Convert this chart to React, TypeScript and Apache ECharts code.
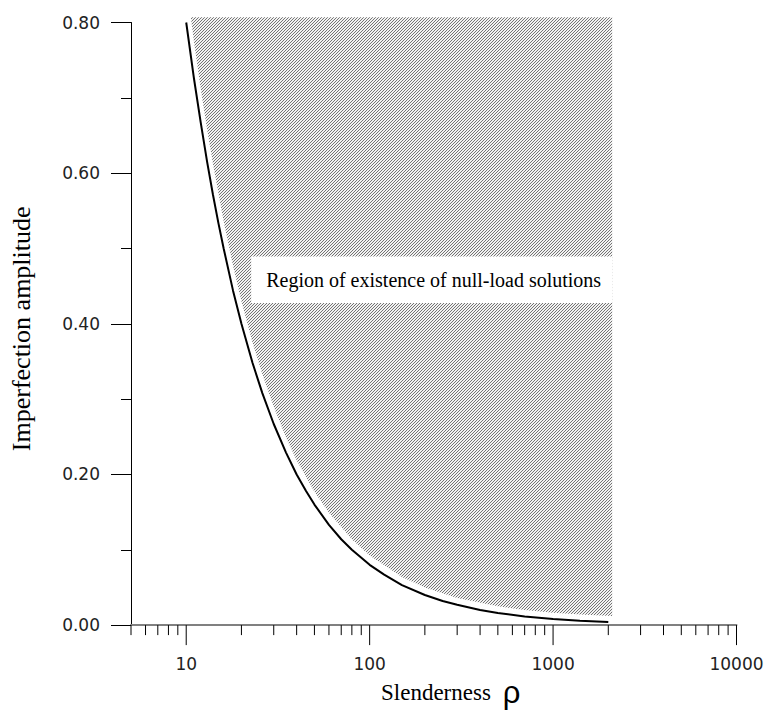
import React, { useEffect, useRef } from 'react';
import * as echarts from 'echarts';

// Black curve (lower limit)
const curveX = [10, 11, 12, 13, 14, 15, 16, 18, 20, 23, 26, 30, 35, 40, 45, 50, 60, 70, 80, 100, 120, 150, 200, 250, 300, 400, 500, 700, 1000, 1400, 2000];
const curveY = [0.80, 0.727, 0.667, 0.615, 0.571, 0.533, 0.50, 0.444, 0.40, 0.348, 0.308, 0.267, 0.229, 0.20, 0.178, 0.16, 0.133, 0.114, 0.10, 0.08, 0.067, 0.053, 0.04, 0.032, 0.027, 0.020, 0.016, 0.0115, 0.008, 0.0058, 0.004];

// Lower edge of the hatched region
const boundaryX = [10.6, 11, 12, 13, 14, 16, 18, 20, 23, 26, 30, 35, 40, 50, 60, 80, 100, 150, 200, 300, 500, 700, 1000, 1500, 2100];
const boundaryY = [0.807, 0.776, 0.712, 0.658, 0.612, 0.536, 0.477, 0.43, 0.375, 0.333, 0.29, 0.249, 0.219, 0.177, 0.149, 0.114, 0.0925, 0.064, 0.05, 0.036, 0.025, 0.02, 0.0165, 0.0136, 0.012];
const regionTop = 0.807;

const xMajorTicks = [10, 100, 1000, 10000];
const xMinorTicks = [5, 6, 7, 8, 9, 20, 30, 40, 50, 60, 70, 80, 90, 200, 300, 400, 500, 600, 700, 800, 900, 2000, 3000, 4000, 5000, 6000, 7000, 8000, 9000];

const regionLabel = 'Region of existence of null-load solutions';
const labelBoxX = [22.6, 2100];
const labelBoxY = [0.4275, 0.4895];

function makeHatch(): HTMLCanvasElement {
  const c = document.createElement('canvas');
  c.width = 3;
  c.height = 3;
  const ctx = c.getContext('2d')!;
  ctx.fillStyle = '#f2f2f2';
  ctx.fillRect(0, 0, 3, 3);
  ctx.fillStyle = '#747474';
  ctx.fillRect(0, 2, 1, 1);
  ctx.fillRect(1, 1, 1, 1);
  ctx.fillRect(2, 0, 1, 1);
  return c;
}

export default function App() {
  const ref = useRef<HTMLDivElement>(null);
  useEffect(() => {
    if (!ref.current) return;
    const chart = echarts.init(ref.current, null, { renderer: 'svg' });
    const hatch = makeHatch();
    const tickData = [
      ...xMajorTicks.map((v) => [v, 0, 1]),
      ...xMinorTicks.map((v) => [v, 0, 0]),
    ];
    chart.setOption({
      animation: false,
      backgroundColor: '#fff',
      grid: { left: 130.5, right: 34.5, top: 22.5, bottom: 84, containLabel: false },
      xAxis: {
        type: 'log',
        logBase: 10,
        min: 5,
        max: 10000,
        axisLine: { show: true, lineStyle: { color: '#808080', width: 2 } },
        axisTick: { show: false },
        splitLine: { show: false },
        axisLabel: {
          margin: 30,
          fontFamily: 'DejaVu Sans',
          fontSize: 17,
          color: '#222',
          formatter: (v: number) => (xMajorTicks.indexOf(Math.round(v)) >= 0 ? String(Math.round(v)) : ''),
        },
        name: '{a|Slenderness}{b|ρ}',
        nameLocation: 'middle',
        nameGap: 46,
        nameTextStyle: {
          padding: [0, 0, 0, 34],
          rich: {
            a: { fontFamily: 'Liberation Serif', fontSize: 23, color: '#000' },
            b: { fontFamily: 'Liberation Sans', fontSize: 31, color: '#000', padding: [0, 0, 0, 12] },
          },
        },
      },
      yAxis: {
        type: 'value',
        min: 0,
        max: 0.8,
        interval: 0.2,
        axisLine: { show: true, lineStyle: { color: '#000', width: 1 } },
        axisTick: { show: true, length: 20, lineStyle: { color: '#000' } },
        minorTick: { show: true, splitNumber: 2, length: 10, lineStyle: { color: '#000' } },
        splitLine: { show: false },
        axisLabel: {
          margin: 31,
          fontFamily: 'DejaVu Sans',
          fontSize: 17,
          color: '#222',
          formatter: (v: number) => v.toFixed(2),
        },
        name: 'Imperfection amplitude',
        nameLocation: 'middle',
        nameRotate: 90,
        nameGap: 97,
        nameTextStyle: {
          fontFamily: 'Liberation Serif',
          fontSize: 26,
          color: '#000',
          padding: [0, 10, 0, 0],
        },
      },
      series: [
        {
          type: 'custom',
          data: [[boundaryX[0], regionTop]],
          encode: { x: 0, y: 1 },
          clip: false,
          silent: true,
          z: 2,
          renderItem: (params: any, api: any) => {
            const pts = boundaryX.map((x, i) => api.coord([x, boundaryY[i]]));
            pts.push(api.coord([boundaryX[boundaryX.length - 1], regionTop]));
            pts.push(api.coord([boundaryX[0], regionTop]));
            return {
              type: 'polygon',
              shape: { points: pts },
              style: {
                fill: { image: hatch, repeat: 'repeat', imageWidth: 3, imageHeight: 3 },
                stroke: 'none',
              },
            };
          },
        },
        {
          type: 'line',
          data: curveX.map((x, i) => [x, curveY[i]]),
          symbol: 'none',
          lineStyle: { color: '#000', width: 2 },
          silent: true,
          clip: false,
          z: 4,
          markArea: {
            z: 10,
            silent: true,
            itemStyle: { color: '#fff', opacity: 1 },
            label: {
              show: true,
              position: 'insideLeft',
              distance: 15,
              fontFamily: 'Liberation Serif',
              fontSize: 20,
              color: '#000',
            },
            data: [[
              { name: regionLabel, coord: [labelBoxX[0], labelBoxY[1]] },
              { coord: [labelBoxX[1], labelBoxY[0]] },
            ]],
          },
        },
        {
          type: 'custom',
          data: tickData,
          encode: { x: 0, y: 1 },
          clip: false,
          silent: true,
          z: 5,
          renderItem: (params: any, api: any) => {
            const p = api.coord([api.value(0), 0]);
            const len = api.value(2) ? 20 : 10;
            return {
              type: 'line',
              shape: { x1: p[0], y1: p[1], x2: p[0], y2: p[1] + len },
              style: { stroke: '#000', lineWidth: 1 },
            };
          },
        },
      ],
    });
    return () => chart.dispose();
  }, []);
  return (
    <div
      ref={ref}
      style={{ position: 'absolute', left: 0, top: 0, width: 771, height: 713, background: '#fff' }}
    />
  );
}
